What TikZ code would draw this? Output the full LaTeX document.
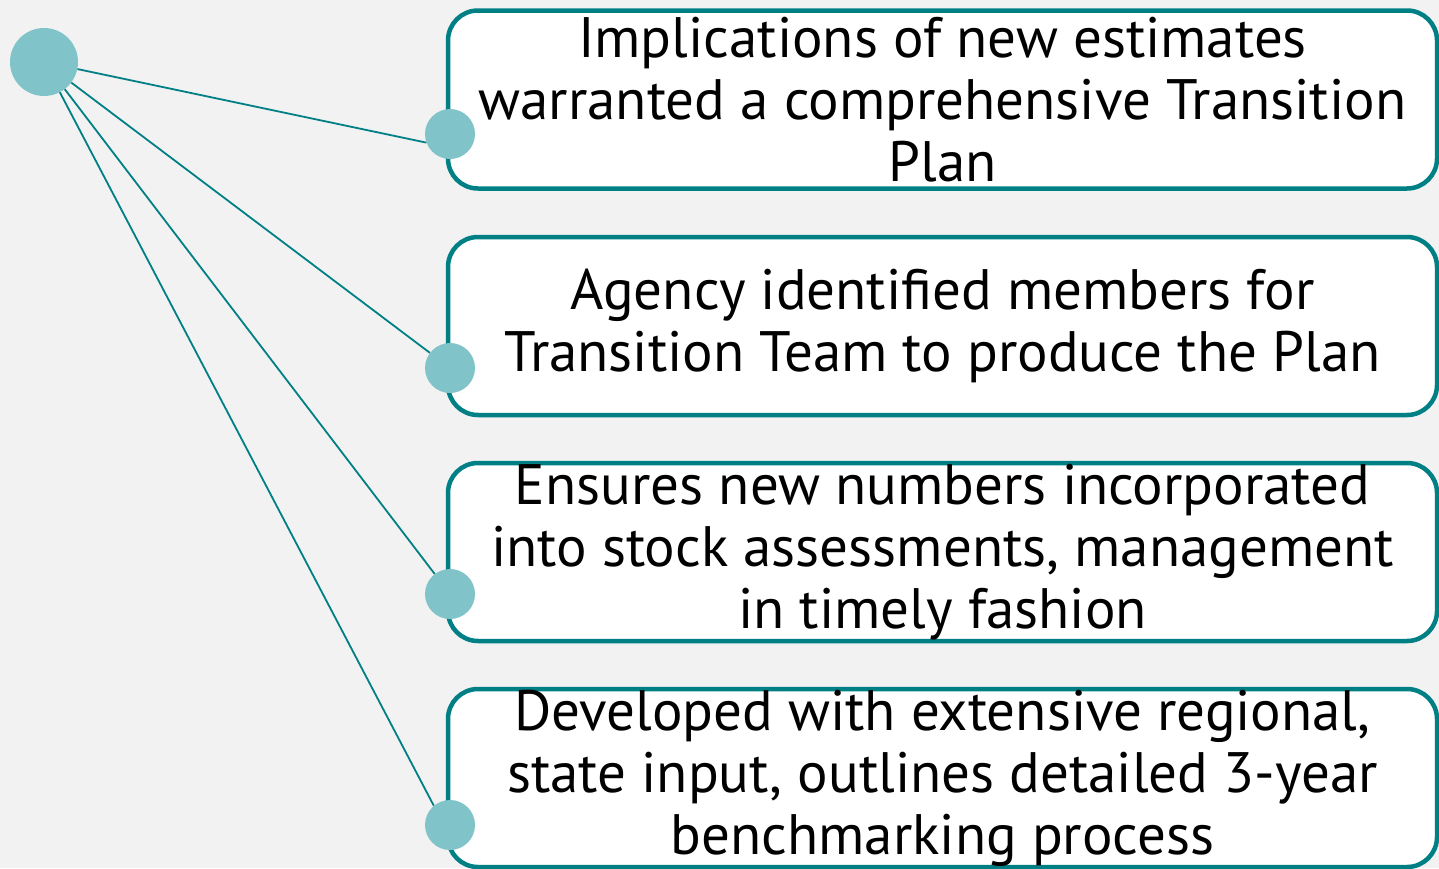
\documentclass[tikz,border=0pt]{standalone}
\usepackage{fontspec}
\setmainfont{PT Sans}
\usepackage{tikz}
\definecolor{tealline}{RGB}{0,128,133}
\definecolor{dotfill}{RGB}{128,196,201}
\definecolor{pagebg}{RGB}{242,242,242}

\begin{document}
\begin{tikzpicture}[x=1pt, y=-1pt,
    stepbox/.style={draw=tealline, line width=4.5pt, fill=white, rounded corners=30pt,
        minimum width=989pt, minimum height=178pt, inner sep=0pt},
    steptext/.style={align=center, font=\fontsize{57}{62}\selectfont, inner sep=0pt},
    bigdot/.style={circle, fill=dotfill, minimum size=68pt, inner sep=0pt},
    smalldot/.style={circle, fill=dotfill, minimum size=50pt, inner sep=0pt},
    link/.style={draw=tealline, line width=1.8pt}]
                % Background
                \fill[pagebg] (0,0) rectangle (1439,868);
                \useasboundingbox (0,0) rectangle (1439,868);

                % Boxes
                \node[stepbox] (box1) at (942.5, 99.5) {};
                \node[stepbox] (box2) at (942.5, 326) {};
                \node[stepbox] (box3) at (942.5, 552) {};
                \node[stepbox] (box4) at (942.5, 778) {};

                % Texts
                \node[steptext] (txt1) at (box1) {Implications of new estimates\\warranted a comprehensive Transition\\Plan};
                \node[steptext] (txt2) at (box2) {Agency identified members for\\Transition Team to produce the Plan};
                \node[steptext] (txt3) at (box3) {Ensures new numbers incorporated\\into stock assessments, management\\in timely fashion};
                \node[steptext] (txt4) at (box4) {Developed with extensive regional,\\state input, outlines detailed 3-year\\benchmarking process};

                % Dots
                \node[bigdot] (hub) at (44, 62) {};
                \node[smalldot] (dot1) at (450, 134) {};
                \node[smalldot] (dot2) at (450, 368) {};
                \node[smalldot] (dot3) at (450, 594) {};
                \node[smalldot] (dot4) at (450, 825) {};

                % Links
                \draw[link] (hub) -- (dot1.200);
                \draw[link] (hub) -- (dot2);
                \draw[link] (hub) -- (dot3);
                \draw[link] (hub) -- (dot4.130);
            \end{tikzpicture}
\end{document}
